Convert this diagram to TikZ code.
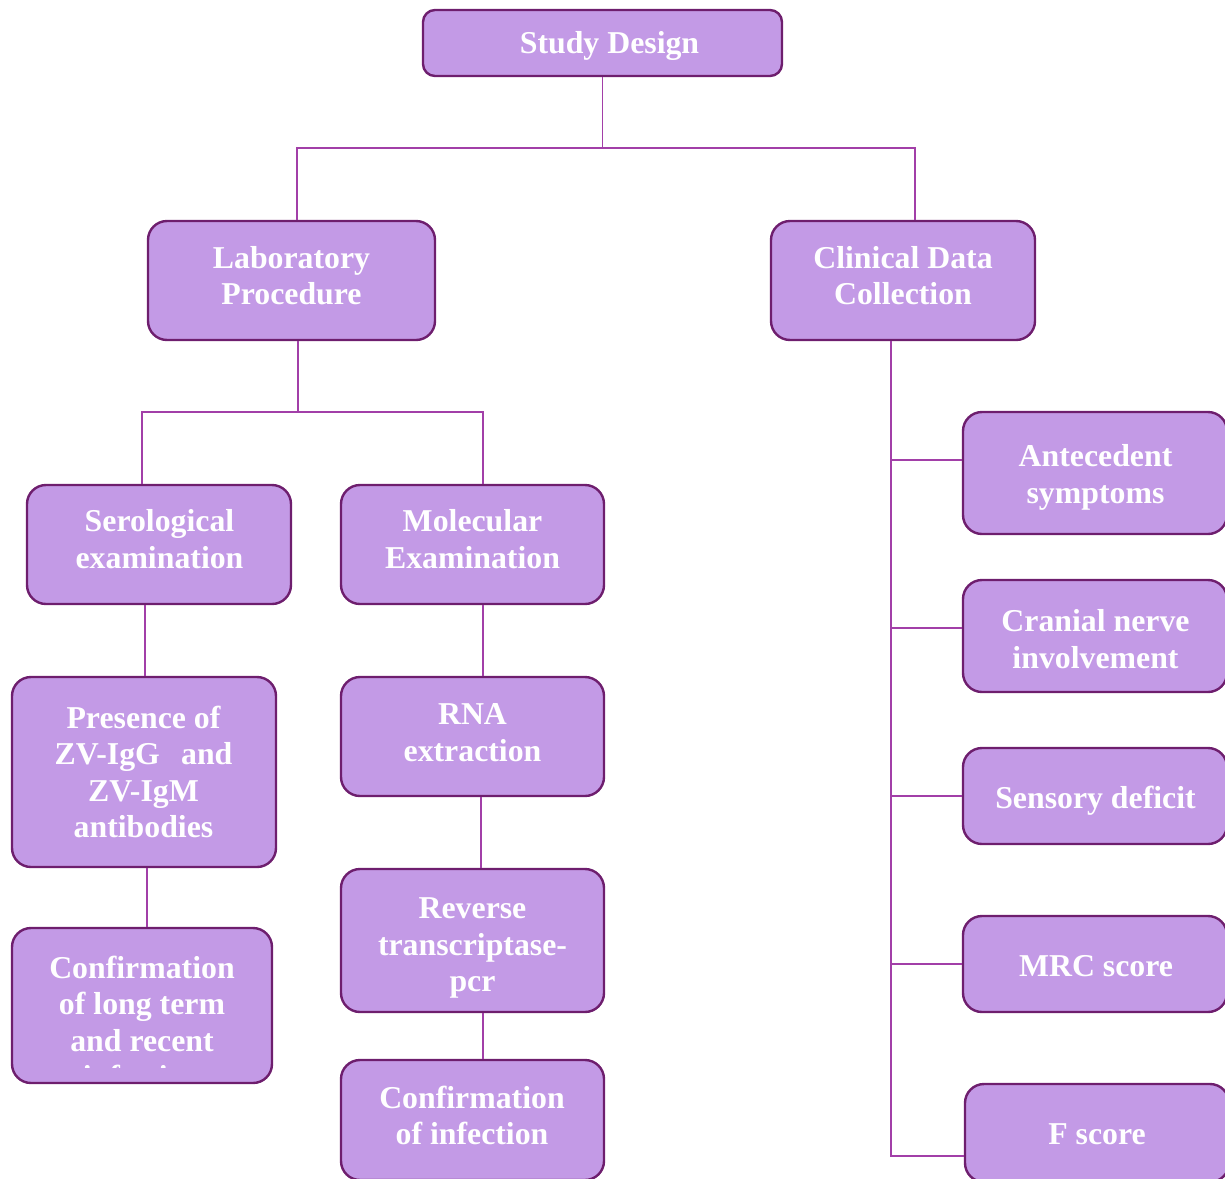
\documentclass[tikz,border=0pt]{standalone}
\usepackage{fontspec}
\setmainfont{Liberation Serif}
\definecolor{boxfill}{HTML}{C39AE6}
\definecolor{boxline}{HTML}{6E1E6E}
\definecolor{linkc}{HTML}{A23FA8}
\begin{document}
\begin{tikzpicture}[x=1pt,y=-1pt,
  box/.style={draw=boxline, line width=2.4pt, fill=boxfill, rounded corners=19pt,
    inner sep=0pt},
  txt/.style={inner sep=0pt, align=center, text=white,
    font=\fontsize{31.8}{36.6}\selectfont\bfseries},
  link/.style={draw=linkc, line width=1.3pt}]
\useasboundingbox (0,0) rectangle (1225,1178);

% boxes
\node[box, rounded corners=12pt, minimum width=359pt, minimum height=66pt] (sd) at (602.5,43) {};
\node[box, minimum width=287pt, minimum height=119pt] (lab) at (291.5,280.5) {};
\node[box, minimum width=264pt, minimum height=119pt] (cli) at (903,280.5) {};
\node[box, minimum width=264pt, minimum height=119pt] (ser) at (159,544.5) {};
\node[box, minimum width=263pt, minimum height=119pt] (mol) at (472.5,544.5) {};
\node[box, minimum width=264pt, minimum height=190pt] (pres) at (144,772) {};
\node[box, minimum width=263pt, minimum height=119pt] (rna) at (472.5,736.5) {};
\node[box, minimum width=263pt, minimum height=143pt] (rev) at (472.5,940.5) {};
\node[box, minimum width=260pt, minimum height=155pt] (conl) at (142,1005.5) {};
\node[box, minimum width=263pt, minimum height=120pt] (coni) at (472.5,1120) {};
\node[box, minimum width=264pt, minimum height=122pt] (ant) at (1095,473) {};
\node[box, minimum width=264pt, minimum height=112pt] (cra) at (1095,636) {};
\node[box, minimum width=264pt, minimum height=96pt] (sen) at (1095,796) {};
\node[box, minimum width=264pt, minimum height=96pt] (mrc) at (1095,964) {};
\node[box, minimum width=264pt, minimum height=98pt] (fs) at (1097,1133) {};

% texts
\node[txt] (sd-t) at (609.5,46) {Study Design};
\node[txt] (lab-t) at (291.5,275.5) {Laboratory\\Procedure};
\node[txt] (cli-t) at (903,275.5) {Clinical Data\\Collection};
\node[txt] (ser-t) at (159.5,539) {Serological\\examination};
\node[txt] (mol-t) at (472.5,539) {Molecular\\Examination};
\node[txt] (pres-t) at (143.5,772) {Presence of\\ZV-IgG\ \ \,and\\ZV-IgM\\antibodies};
\node[txt] (rna-t) at (472.5,732.5) {RNA\\extraction};
\node[txt] (rev-t) at (472.5,948) {Reverse\\transcriptase-\\pcr};
\begin{scope}
  \clip (12,928) rectangle (272,1067);
  \node[txt] (conl-t) at (142,1022) {Confirmation\\of long term\\and recent\\infection};
\end{scope}
\node[txt] (coni-t) at (472,1115.5) {Confirmation\\of infection};
\node[txt] (ant-t) at (1095.5,477.5) {Antecedent\\symptoms};
\node[txt] (cra-t) at (1095.5,639) {Cranial nerve\\involvement};
\node[txt] (sen-t) at (1095.5,801) {Sensory deficit};
\node[txt] (mrc-t) at (1096,966) {MRC score};
\node[txt] (fs-t) at (1097,1134) {F score};

% connectors
\coordinate (j1) at (602.5,148);
\draw[link] (sd.south) -- (j1);
\draw[link] ([xshift=5.5pt]lab.north) |- (j1) -| ([xshift=12pt]cli.north);

\coordinate (j2) at (298,412);
\draw[link] (lab.south -| j2) -- (j2);
\draw[link] ([xshift=-17pt]ser.north) |- (j2) -| ([xshift=10.5pt]mol.north);

\draw[link] ([xshift=-14pt]ser.south) -- ([xshift=-14pt]ser.south |- pres.north);
\draw[link] ([xshift=3pt]pres.south) -- ([xshift=3pt]pres.south |- conl.north);

\draw[link] ([xshift=10.5pt]mol.south) -- ([xshift=10.5pt]mol.south |- rna.north);
\draw[link] ([xshift=8.5pt]rna.south) -- ([xshift=8.5pt]rna.south |- rev.north);
\draw[link] ([xshift=10.5pt]rev.south) -- ([xshift=10.5pt]rev.south |- coni.north);

\coordinate (tb) at (891,1156);
\draw[link] ([xshift=-12pt]cli.south) -- (tb) -- (tb -| fs.west);
\draw[link] ([yshift=13pt]ant.west) -- ([yshift=13pt]ant.west -| tb);
\draw[link] ([yshift=8pt]cra.west) -- ([yshift=8pt]cra.west -| tb);
\draw[link] (sen.west) -- (sen.west -| tb);
\draw[link] (mrc.west) -- (mrc.west -| tb);
\end{tikzpicture}
\end{document}
